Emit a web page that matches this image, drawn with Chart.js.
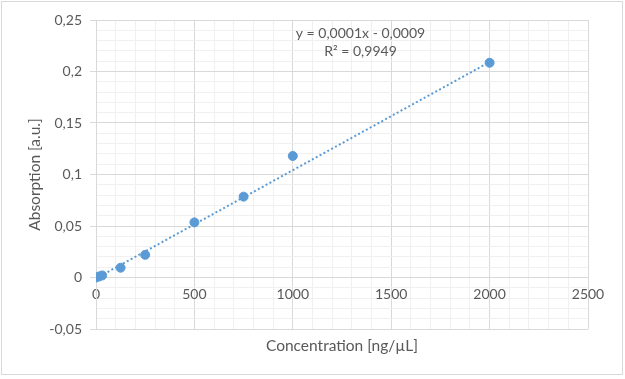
<!DOCTYPE html>
<html>
<head>
<meta charset="utf-8">
<script src="https://cdn.jsdelivr.net/npm/chart.js@4/dist/chart.umd.min.js"></script>
<style>
  html, body { margin: 0; padding: 0; background: #ffffff; }
  #wrap { position: absolute; left: 0; top: 0; width: 625px; height: 379px; }
  #frame { position: absolute; left: 1px; top: 1px; width: 620px; height: 372px; border: 1px solid #d9d9d9; pointer-events: none; }
  canvas { position: absolute; left: 0; top: 0; }
</style>
</head>
<body>
<div id="wrap">
  <canvas id="c" width="625" height="379"></canvas>
  <div id="frame"></div>
</div>
<script>
// ---- data ----
const concentrations = [0, 15.625, 31.25, 125, 250, 500, 750, 1000, 2000];
const absorption     = [0, 0.001, 0.002, 0.0095, 0.022, 0.0535, 0.0785, 0.118, 0.2085];
const trendX = [0, 2000];
const trendY = [-0.0009, 0.2092];
const equationText = ["y = 0,0001x - 0,0009", "R\u00B2 = 0,9949"];
const xTitle = "Concentration [ng/\u00B5L]";
const yTitle = "Absorption [a.u.]";
const xMin = 0, xMax = 2500, xMajor = 500, xMinor = 100;
const yMin = -0.05, yMax = 0.25, yMajor = 0.05, yMinor = 0.01;

const FONT = "Lato, 'Open Sans', sans-serif";
const TXT = '#595959';
const MAJOR = '#d9d9d9';
const MINOR = '#f0f0f0';
const BLUE = '#5b9bd5';

const isMajorX = v => Math.abs(Math.round(v) % xMajor) < 1e-6;
const isMajorY = v => Math.abs(Math.round(v * 100) % Math.round(yMajor * 100)) === 0;
const fmtY = v => String(Math.round(v * 100) / 100).replace('.', ',');

const eqPlugin = {
  id: 'eq',
  afterDatasetsDraw(chart) {
    const {ctx, chartArea} = chart;
    ctx.save();
    ctx.font = "14px " + FONT;
    ctx.fillStyle = TXT;
    ctx.textAlign = 'center';
    ctx.textBaseline = 'middle';
    const cx = chartArea.left + 264.5;
    ctx.fillText(equationText[0], cx, chartArea.top + 13);
    ctx.fillText(equationText[1], cx, chartArea.top + 31.5);
    ctx.restore();
  }
};

new Chart(document.getElementById('c'), {
  data: {
    datasets: [
      {
        type: 'scatter',
        data: concentrations.map((x, i) => ({x, y: absorption[i]})),
        backgroundColor: BLUE,
        borderColor: BLUE,
        pointRadius: 4.5,
        pointHoverRadius: 4.5,
        order: 1
      },
      {
        type: 'line',
        data: trendX.map((x, i) => ({x, y: trendY[i]})),
        borderColor: BLUE,
        borderWidth: 2,
        borderDash: [2, 2.4],
        borderCapStyle: 'butt',
        pointRadius: 0,
        fill: false,
        order: 2
      }
    ]
  },
  options: {
    responsive: false,
    animation: false,
    events: [],
    layout: { padding: { top: 20, right: 37, bottom: 0, left: 0 } },
    plugins: { legend: { display: false }, tooltip: { enabled: false } },
    scales: {
      x: {
        type: 'linear',
        position: { y: 0 },
        min: xMin, max: xMax,
        border: { display: true, color: MAJOR, width: 1 },
        grid: {
          color: c => isMajorX(c.tick.value) ? MAJOR : MINOR,
          lineWidth: 1,
          drawTicks: false
        },
        ticks: {
          stepSize: xMinor,
          autoSkip: false,
          maxRotation: 0,
          padding: 9,
          color: TXT,
          font: { family: FONT, size: 14 },
          callback: v => isMajorX(v) ? String(v) : ''
        }
      },
      x2: {
        type: 'linear',
        position: 'bottom',
        axis: 'x',
        min: xMin, max: xMax,
        grid: { display: false, drawTicks: false },
        border: { display: false },
        ticks: { display: false },
        title: {
          display: true,
          text: xTitle,
          color: TXT,
          font: { family: FONT, size: 15.5 },
          padding: { top: 0, bottom: 24 }
        },
        afterFit: s => { s.height = 50; }
      },
      y: {
        type: 'linear',
        position: 'left',
        min: yMin, max: yMax,
        border: { display: true, color: MAJOR, width: 1 },
        grid: {
          color: c => isMajorY(c.tick.value) ? MAJOR : MINOR,
          tickColor: c => isMajorY(c.tick.value) ? MAJOR : 'rgba(0,0,0,0)',
          tickLength: 6,
          lineWidth: 1
        },
        ticks: {
          stepSize: yMinor,
          autoSkip: false,
          padding: 8,
          color: TXT,
          font: { family: FONT, size: 14 },
          callback: v => isMajorY(v) ? fmtY(v) : ''
        },
        title: {
          display: true,
          text: yTitle,
          color: TXT,
          font: { family: FONT, size: 15.5 },
          padding: { top: 26, bottom: 0 }
        },
        afterFit: s => { s.width = 96; }
      }
    }
  },
  plugins: [eqPlugin]
});
</script>
</body>
</html>
